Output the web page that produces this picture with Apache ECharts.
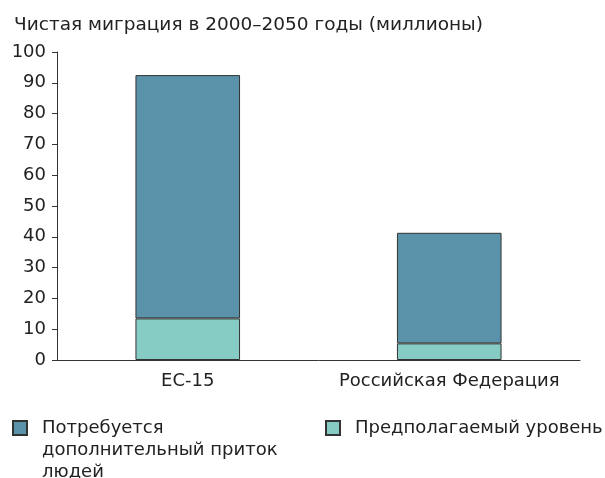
<!DOCTYPE html>
<html>
<head>
<meta charset="utf-8">
<script src="https://cdn.jsdelivr.net/npm/echarts@6/dist/echarts.min.js"></script>
<style>
  html, body { margin: 0; padding: 0; background: #fff; }
  #chart { width: 605px; height: 478px; }
</style>
</head>
<body>
<div id="chart"></div>
<script>
var chart = echarts.init(document.getElementById('chart'));

var categories = ['ЕС-15', 'Российская Федерация'];
var expected = [13.5, 5.4];       // Предполагаемый уровень
var additional = [79, 35.9];      // Потребуется дополнительный приток людей
var seriesNames = ['Потребуется дополнительный приток людей', 'Предполагаемый уровень'];

var font = 'DejaVu Sans';
var txt = { fontFamily: font, fontSize: 18, color: '#222' };

var option = {
    title: {
        text: 'Чистая миграция в 2000–2050 годы (миллионы)',
        left: 9,
        top: 11,
        textStyle: { fontFamily: font, fontSize: 18.5, fontWeight: 'normal', color: '#222' }
    },
    legend: [{
        data: [seriesNames[0]],
        left: 12,
        top: 373,
        padding: 0,
        icon: 'rect',
        itemWidth: 14,
        itemHeight: 14,
        selectedMode: false,
        // две пустые строки сверху, чтобы значок стоял напротив первой строки
        formatter: function () { return '\n\nПотребуется\nдополнительный приток\nлюдей'; },
        textStyle: Object.assign({ lineHeight: 22, padding: [0, 0, 0, 10] }, txt)
    }, {
        data: [seriesNames[1]],
        left: 325,
        top: 417,
        padding: 0,
        icon: 'rect',
        itemWidth: 14,
        itemHeight: 14,
        selectedMode: false,
        textStyle: Object.assign({ lineHeight: 22, padding: [0, 0, 0, 10] }, txt)
    }],
    grid: { left: 57, right: 25, top: 52, bottom: 118 },
    xAxis: {
        type: 'category',
        data: categories,
        axisLine: { lineStyle: { color: '#333', width: 1 } },
        axisTick: { length: 5, lineStyle: { color: '#333' } },
        axisLabel: Object.assign({ margin: 12, interval: 0 }, txt)
    },
    yAxis: {
        type: 'value',
        min: 0,
        max: 100,
        interval: 10,
        splitLine: { show: false },
        axisLine: { show: true, lineStyle: { color: '#333', width: 1 } },
        axisTick: { show: true, length: 5, lineStyle: { color: '#333' } },
        axisLabel: Object.assign({ margin: 11 }, txt)
    },
    series: [{
        name: seriesNames[1],
        type: 'bar',
        stack: 'total',
        data: expected,
        barWidth: '40%',
        itemStyle: { color: '#86cbc4', borderColor: '#333', borderWidth: 1 }
    }, {
        name: seriesNames[0],
        type: 'bar',
        stack: 'total',
        data: additional,
        barWidth: '40%',
        itemStyle: { color: '#5a93a9', borderColor: '#333', borderWidth: 1 }
    }]
};

chart.setOption(option);
</script>
</body>
</html>
